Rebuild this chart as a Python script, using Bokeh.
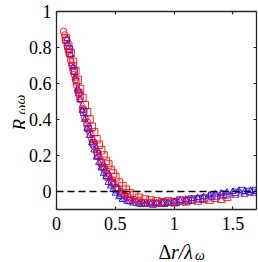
from bokeh.plotting import figure
from bokeh.layouts import row, column
from bokeh.models import Range1d, FixedTicker, LinearAxis, Span, Label
from bokeh.embed import file_html
from bokeh.resources import INLINE

x_ticks = [0, 0.5, 1, 1.5]
x_tick_labels = ["0", "0.5", "1", "1.5"]
y_ticks = [0, 0.2, 0.4, 0.6, 0.8, 1]
y_tick_labels = ["0", "0.2", "0.4", "0.6", "0.8", "1"]

# red squares
sq_red_x = [0.08, 0.10, 0.12, 0.14, 0.16, 0.18, 0.20, 0.22, 0.24, 0.26, 0.28, 0.30, 0.32, 0.34,
            0.36, 0.38, 0.40, 0.42, 0.44, 0.46, 0.48, 0.50, 0.53, 0.56, 0.59, 0.62, 0.66, 0.70,
            0.75, 0.80, 0.85, 0.90, 0.95, 1.00, 1.05, 1.10, 1.15, 1.20, 1.25, 1.30, 1.35, 1.40, 1.45]
sq_red_y = [0.85, 0.81, 0.77, 0.72, 0.67, 0.62, 0.57, 0.52, 0.48, 0.44, 0.40, 0.36, 0.33, 0.29,
            0.26, 0.23, 0.20, 0.17, 0.15, 0.12, 0.10, 0.08, 0.05, 0.03, 0.01, -0.01, -0.02, -0.035,
            -0.045, -0.05, -0.055, -0.06, -0.055, -0.06, -0.05, -0.055, -0.045, -0.05, -0.04, -0.045,
            -0.035, -0.04, -0.03]

# red circles
ci_red_x = [0.06, 0.07, 0.08, 0.09, 0.10, 0.11, 0.12, 0.13, 0.14, 0.15, 0.16, 0.17, 0.18, 0.19,
            0.20, 0.22, 0.24, 0.26, 0.28, 0.30, 0.32, 0.34, 0.36, 0.38, 0.40, 0.43, 0.46, 0.49,
            0.52, 0.55, 0.58, 0.62, 0.66, 0.70, 0.75, 0.80, 0.85, 0.90, 1.00, 1.10]
ci_red_y = [0.89, 0.87, 0.84, 0.81, 0.78, 0.76, 0.73, 0.70, 0.67, 0.65, 0.62, 0.59, 0.56, 0.54,
            0.51, 0.46, 0.41, 0.37, 0.33, 0.29, 0.25, 0.22, 0.19, 0.16, 0.13, 0.10, 0.07, 0.04,
            0.02, 0.00, -0.02, -0.035, -0.045, -0.05, -0.06, -0.06, -0.065, -0.06, -0.06, -0.055]

# purple squares
sq_pur_x = [0.08, 0.11, 0.14, 0.17, 0.20, 0.23, 0.26, 0.29, 0.32, 0.35, 0.38, 0.41, 0.44, 0.47,
            0.50, 0.54, 0.58, 0.63, 0.68, 0.74, 0.80, 0.86, 0.92, 0.98, 1.05, 1.12, 1.20, 1.28,
            1.36, 1.44, 1.52, 1.60, 1.68]
sq_pur_y = [0.84, 0.77, 0.70, 0.61, 0.53, 0.45, 0.38, 0.32, 0.26, 0.21, 0.16, 0.12, 0.08, 0.05,
            0.02, -0.01, -0.03, -0.05, -0.06, -0.065, -0.065, -0.065, -0.06, -0.06, -0.05, -0.045,
            -0.04, -0.035, -0.025, -0.02, -0.015, -0.01, -0.005]

# purple triangles
tr_pur_x = [0.10, 0.13, 0.16, 0.19, 0.22, 0.25, 0.28, 0.31, 0.34, 0.37, 0.40, 0.43, 0.46, 0.49,
            0.52, 0.56, 0.60, 0.65, 0.71, 0.77, 0.83, 0.89, 0.95, 1.02, 1.09, 1.16, 1.24, 1.32,
            1.40, 1.48, 1.56, 1.64]
tr_pur_y = [0.80, 0.72, 0.64, 0.56, 0.48, 0.41, 0.35, 0.29, 0.24, 0.19, 0.15, 0.11, 0.07, 0.04,
            0.015, -0.015, -0.035, -0.05, -0.06, -0.07, -0.065, -0.07, -0.065, -0.06, -0.055, -0.05,
            -0.045, -0.035, -0.03, -0.02, -0.015, -0.01]

# blue triangles
tr_blue_x = [0.09, 0.10, 0.12, 0.14, 0.16, 0.18, 0.20, 0.22, 0.24, 0.26, 0.28, 0.30, 0.32, 0.34,
             0.36, 0.38, 0.40, 0.42, 0.44, 0.46, 0.48, 0.50, 0.53, 0.56, 0.60, 0.65, 0.70, 0.75,
             0.80, 0.85, 0.90, 0.95, 1.00, 1.05, 1.10, 1.15, 1.20, 1.25, 1.30, 1.35, 1.40, 1.45,
             1.50, 1.55, 1.60, 1.65, 1.70]
tr_blue_y = [0.85, 0.82, 0.76, 0.69, 0.63, 0.57, 0.51, 0.45, 0.40, 0.35, 0.31, 0.27, 0.23, 0.19,
             0.16, 0.13, 0.10, 0.08, 0.05, 0.03, 0.01, -0.01, -0.03, -0.045, -0.055, -0.065, -0.07,
             -0.07, -0.07, -0.065, -0.065, -0.06, -0.055, -0.05, -0.045, -0.04, -0.035, -0.03, -0.02,
             -0.015, -0.01, -0.005, 0.0, 0.005, 0.0, 0.005, 0.0]

# blue squares
sq_blue_x = [0.11, 0.15, 0.19, 0.23, 0.27, 0.31, 0.35, 0.39, 0.43, 0.47, 0.51, 0.55, 0.62, 0.72,
             0.82, 0.92, 1.02, 1.12, 1.22, 1.32, 1.42, 1.52, 1.58, 1.64, 1.69]
sq_blue_y = [0.79, 0.67, 0.55, 0.44, 0.35, 0.27, 0.20, 0.14, 0.09, 0.05, 0.01, -0.02, -0.05, -0.065,
             -0.07, -0.065, -0.06, -0.05, -0.04, -0.025, -0.015, -0.005, 0.005, 0.0, 0.005]

FONT = "Liberation Serif"
AX = "#262626"

# ---- main plot ----
p = figure(width=233, height=237, x_range=Range1d(0, 1.7), y_range=Range1d(-0.1, 1),
           output_backend="svg", toolbar_location=None,
           min_border_left=29, min_border_right=2, min_border_top=11, min_border_bottom=28)
p.grid.visible = False
p.outline_line_color = None

p.scatter(sq_red_x, sq_red_y, marker="square", size=7.5, fill_color=None,
          line_color="#FF0000", line_width=1, line_alpha=0.85)
p.scatter(sq_blue_x, sq_blue_y, marker="square", size=6.5, fill_color=None,
          line_color="#0000FF", line_width=1, line_alpha=0.8)
p.scatter(tr_blue_x, tr_blue_y, marker="triangle", size=6.5, fill_color=None,
          line_color="#0000FF", line_width=1, line_alpha=0.85)
p.scatter(tr_pur_x, tr_pur_y, marker="triangle", size=6.5, fill_color=None,
          line_color="#9020A0", line_width=1, line_alpha=0.75)
p.scatter(sq_pur_x, sq_pur_y, marker="square", size=6.5, fill_color=None,
          line_color="#8020A0", line_width=1, line_alpha=0.75)
p.scatter(ci_red_x, ci_red_y, marker="circle", size=6.5, fill_color=None,
          line_color="#FF0000", line_width=1, line_alpha=0.85)

p.add_layout(Span(location=0, dimension="width", line_color="black",
                  line_dash="7 4", line_width=1.5))

def style(ax, ticks, labels):
    ax.ticker = FixedTicker(ticks=ticks)
    ax.major_tick_in = 3
    ax.major_tick_out = 0
    ax.minor_tick_line_color = None
    ax.axis_line_color = AX
    ax.axis_line_width = 1.3
    ax.major_tick_line_color = AX
    ax.major_tick_line_width = 1.2
    ax.major_label_overrides = {t: l for t, l in zip(ticks, labels)}
    ax.major_label_text_font = FONT
    ax.major_label_text_font_size = "18px"
    ax.major_label_text_color = "black"

style(p.xaxis[0], x_ticks, x_tick_labels)
p.xaxis[0].major_label_standoff = 7
style(p.yaxis[0], y_ticks, y_tick_labels)
p.yaxis[0].major_label_standoff = 5

top = LinearAxis()
style(top, x_ticks, ["" for _ in x_ticks])
top.major_label_standoff = 0
p.add_layout(top, "above")
right = LinearAxis()
style(right, y_ticks, ["" for _ in y_ticks])
right.major_label_standoff = 0
p.add_layout(right, "right")

# ---- label strips ----
def strip(w, h):
    f = figure(width=w, height=h, x_range=Range1d(0, 1), y_range=Range1d(0, 1),
               x_axis_type=None, y_axis_type=None, output_backend="svg",
               toolbar_location=None, min_border=0)
    f.grid.visible = False
    f.outline_line_color = None
    return f

def lab(f, x, y, t, size, italic, angle=0.0):
    f.add_layout(Label(x=x, y=y, x_units="screen", y_units="screen", text=t,
                       text_font=FONT, text_font_size=size,
                       text_font_style="italic" if italic else "normal",
                       text_color="black", text_align="left", text_baseline="alphabetic",
                       angle=angle))

# y label: R_ωω
yf = strip(25, 262)
lab(yf, 18.5, 132, "R", "19px", True, angle=1.5708)
lab(yf, 20.5, 148, "ωω", "14px", True, angle=1.5708)

# x label: Δr/λ_ω
xf = strip(233, 25)
lab(xf, 102, 11, "Δ", "20px", False)
lab(xf, 114.5, 11, "r/λ", "20px", True)
lab(xf, 138.5, 7, "ω", "14px", True)

layout = row(yf, column(p, xf, spacing=0), spacing=0)

open("out.html", "w").write(file_html(layout, INLINE))
